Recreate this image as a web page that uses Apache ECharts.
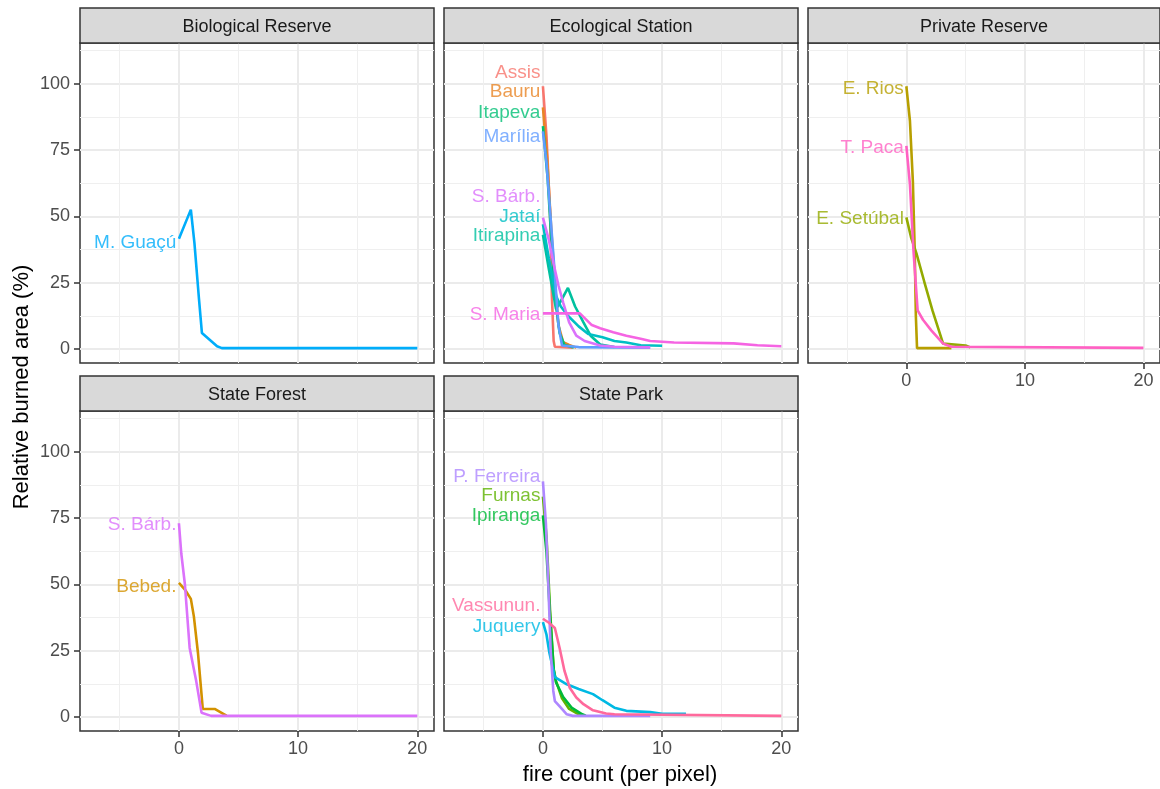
<!DOCTYPE html>
<html>
<head>
<meta charset="utf-8">
<script src="https://cdn.jsdelivr.net/npm/echarts@6/dist/echarts.min.js"></script>
<style>
html,body{margin:0;padding:0;background:#fff;}
#chart{width:1160px;height:789px;}
</style>
</head>
<body>
<div id="chart"></div>
<script>
// ---------------- DATA ----------------
const colorLevels = ['Assis','Bauru','Bebed.','E. Rios','E. Setúbal','Furnas','Ipiranga','Itapeva','Itirapina','Jataí','Juquery','M. Guaçú','Marília','P. Ferreira','S. Bárb.','S. Maria','T. Paca','Vassunun.'];

const panelTitles = ['Biological Reserve','Ecological Station','Private Reserve','State Forest','State Park'];

const xTicks = [0, 10, 20];
const xMinorTicks = [-5, 5, 15];
const yTicks = [0, 25, 50, 75, 100];
const yMinorTicks = [12.5, 37.5, 62.5, 87.5, 112.5];

// Biological Reserve
const bioNames = ['M. Guaçú'];
const bioLabelY = [40];
const bioData = [
  [[0,41.5],[1,52.5],[1.3,40],[1.68,19],[1.93,6],[3.2,1],[3.6,0.3],[20,0.3]]
];

// Ecological Station
const ecoNames = ['Assis','Bauru','Itapeva','Itirapina','Jataí','Marília','S. Bárb.','S. Maria'];
const ecoLabelY = [104, 97, 89, 42.5, 50, 80, 57.5, 12.8];
const ecoData = [
  [[0,99],[0.3,80],[0.6,51],[0.75,20],[0.9,3],[1,0.8],[2.5,0.5]],
  [[0,91],[0.35,72],[0.7,45],[1,25],[1.3,9],[1.7,2.5],[2.2,1.5],[2.8,0.5]],
  [[0,84],[0.4,64],[0.75,38],[1.05,18],[1.4,6],[1.8,1.5],[2.6,0.5]],
  [[0,43],[0.5,30],[1.1,15],[1.5,18],[2.1,23],[2.7,16],[3.4,10],[4,5],[4.8,1.7],[6,0.7]],
  [[0,47],[0.5,34],[1.1,20],[1.5,16],[2.1,12.5],[3,8.5],[3.8,5.6],[5,4.4],[6,3],[7,2.4],[8.2,1.4],[10,1.2]],
  [[0,82],[0.3,70],[0.7,46],[1,28],[1.3,9],[1.6,1.3],[3,0.7],[9,0.5]],
  [[0,49.5],[0.5,41],[0.9,32],[1.3,24],[1.7,17.5],[2.2,10],[2.8,5],[3.5,3],[4.8,1.3],[6,0.8],[9,0.6]],
  [[0,13.4],[3.1,13.4],[4.1,9],[4.8,7.8],[5.9,6.3],[7,5],[8.2,3.8],[9,3],[11,2.4],[16,2.1],[18,1.4],[20,1]]
];

// Private Reserve
const privNames = ['E. Rios','E. Setúbal','T. Paca'];
const privLabelY = [98, 49.2, 76];
const privData = [
  [[0,99],[0.3,86],[0.55,63],[0.7,38],[0.8,12.5],[0.9,0.3],[3.8,0.3]],
  [[0,49.6],[0.4,42],[0.85,36],[1.5,25.5],[2.2,14.5],[3.1,2],[5,1.3],[5.4,0.6]],
  [[0,76.5],[0.3,62],[0.6,37],[0.95,14.5],[1.4,11],[2.1,7],[3.1,2],[3.8,0.8],[20,0.4]]
];

// State Forest
const forestNames = ['Bebed.','S. Bárb.'];
const forestLabelY = [49.2, 72.3];
const forestData = [
  [[0,50.5],[0.5,48],[1,44.5],[1.25,38],[1.6,24],[2,3],[3,3],[3.8,1],[4,0.5]],
  [[0,73],[0.2,61.5],[0.5,50],[0.9,26],[1.45,13.5],[1.9,1.6],[2.7,0.4],[20,0.4]]
];

// State Park
const parkNames = ['Furnas','Ipiranga','Juquery','P. Ferreira','Vassunun.'];
const parkLabelY = [83.3, 75.8, 34, 90.5, 42];
const parkData = [
  [[0,83],[0.3,68],[0.6,40],[0.9,18],[1.1,13.5],[1.6,7],[2.2,3],[3,1],[3.4,0.5]],
  [[0,76],[0.3,62],[0.6,38],[0.9,18],[1.1,13],[1.7,7.5],[2.4,3.5],[3.3,1],[3.6,0.5]],
  [[0,35.7],[0.3,31],[0.55,24],[1,15],[2,12.3],[3,10.5],[4.2,8.6],[5,6.3],[6,3.5],[7,2.3],[9,1.8],[10,1.2],[12,1.2]],
  [[0,88.8],[0.25,73],[0.45,50],[0.65,25],[0.87,9.8],[1,6],[1.5,3.5],[2,1],[2.5,0.4],[9,0.4]],
  [[0,37],[0.5,35.5],[1,33.5],[1.4,26],[1.8,17.5],[2.25,11],[2.8,7.3],[3.4,4.8],[4.2,2.5],[5.3,1.3],[6,1],[20,0.4]]
];

// ---------------- STYLE / LAYOUT ----------------
const FONT = "'Liberation Sans', Arial, sans-serif";
const XMIN = -8.3, XMAX = 21.4, YMIN = -5.3, YMAX = 115.3;
const colLeft = [80, 444, 808];
const colWidth = [354, 354, 352];
const rowTop = [43, 411];
const panelH = 320;
const stripH = 35;

// ggplot2 hue palette: hcl(h, c=100, l=65)
function hcl(h, c, l) {
  const hr = h * Math.PI / 180;
  const U = c * Math.cos(hr), V = c * Math.sin(hr);
  const Xn = 95.047, Yn = 100, Zn = 108.883;
  const Y = Yn * (l > 8 ? Math.pow((l + 16) / 116, 3) : l / 903.3);
  const t = Xn + 15 * Yn + 3 * Zn;
  const un = 4 * Xn / t, vn = 9 * Yn / t;
  const u = U / (13 * l) + un, v = V / (13 * l) + vn;
  const X = 9 * Y * u / (4 * v);
  const Z = -X / 3 - 5 * Y + 3 * Y / v;
  const x = X / 100, y = Y / 100, z = Z / 100;
  let rgb = [
    3.240479 * x - 1.537150 * y - 0.498535 * z,
    -0.969256 * x + 1.875992 * y + 0.041556 * z,
    0.055648 * x - 0.204043 * y + 1.057311 * z
  ];
  rgb = rgb.map(c0 => {
    let g = c0 <= 0.0031308 ? 12.92 * c0 : 1.055 * Math.pow(c0, 1 / 2.4) - 0.055;
    g = Math.max(0, Math.min(1, g));
    return Math.round(g * 255).toString(16).padStart(2, '0');
  });
  return '#' + rgb.join('');
}
const nLev = colorLevels.length;
const palette = {};
colorLevels.forEach((nm, i) => { palette[nm] = hcl(15 + i * 360 / nLev, 100, 65); });

const panels = [
  {names: bioNames, data: bioData, labelY: bioLabelY, row: 0, col: 0, xLab: false},
  {names: ecoNames, data: ecoData, labelY: ecoLabelY, row: 0, col: 1, xLab: false},
  {names: privNames, data: privData, labelY: privLabelY, row: 0, col: 2, xLab: true},
  {names: forestNames, data: forestData, labelY: forestLabelY, row: 1, col: 0, xLab: true},
  {names: parkNames, data: parkData, labelY: parkLabelY, row: 1, col: 1, xLab: true}
];

const grids = [], xAxes = [], yAxes = [], series = [], graphics = [];

panels.forEach((p, i) => {
  const left = colLeft[p.col], top = rowTop[p.row], w = colWidth[p.col];
  const yLab = p.col === 0;
  grids.push({left: left, top: top, width: w, height: panelH, show: true,
    borderColor: '#333333', borderWidth: 1.5, backgroundColor: '#ffffff', outerBoundsMode: 'none', containLabel: false});
  // major x
  xAxes.push({type: 'value', gridIndex: i, min: XMIN, max: XMAX, position: 'bottom',
    axisLine: {show: false, onZero: false},
    axisTick: {show: p.xLab, customValues: xTicks, length: 6, lineStyle: {color: '#333333', width: 1.5}},
    axisLabel: {show: p.xLab, customValues: xTicks, fontSize: 18, color: '#4D4D4D', fontFamily: FONT, margin: 9},
    splitLine: {show: true, lineStyle: {color: '#EBEBEB', width: 2}}
  });
  // minor x
  xAxes.push({type: 'value', gridIndex: i, min: XMIN, max: XMAX, position: 'bottom',
    axisLine: {show: false, onZero: false},
    axisTick: {show: false, customValues: xMinorTicks},
    axisLabel: {show: false, customValues: xMinorTicks},
    splitLine: {show: true, lineStyle: {color: '#EFEFEF', width: 1}}
  });
  // major y
  yAxes.push({type: 'value', gridIndex: i, min: YMIN, max: YMAX, position: 'left',
    axisLine: {show: false, onZero: false},
    axisTick: {show: yLab, customValues: yTicks, length: 6, lineStyle: {color: '#333333', width: 1.5}},
    axisLabel: {show: yLab, customValues: yTicks, fontSize: 18, color: '#4D4D4D', fontFamily: FONT, margin: 10},
    splitLine: {show: true, lineStyle: {color: '#EBEBEB', width: 2}}
  });
  // minor y
  yAxes.push({type: 'value', gridIndex: i, min: YMIN, max: YMAX, position: 'left',
    axisLine: {show: false, onZero: false},
    axisTick: {show: false, customValues: yMinorTicks},
    axisLabel: {show: false, customValues: yMinorTicks},
    splitLine: {show: true, lineStyle: {color: '#EFEFEF', width: 1}}
  });

  p.names.forEach((nm, k) => {
    series.push({type: 'line', name: nm + ' ' + i, xAxisIndex: 2 * i, yAxisIndex: 2 * i,
      data: p.data[k], showSymbol: false, symbol: 'none', silent: true, animation: false,
      lineStyle: {color: palette[nm], width: 2.6}, z: 3});
  });
  series.push({type: 'scatter', xAxisIndex: 2 * i, yAxisIndex: 2 * i, symbolSize: 1, silent: true, animation: false,
    itemStyle: {color: 'rgba(0,0,0,0)'}, z: 5,
    label: {show: true, position: 'left', distance: 2, formatter: '{b}', fontSize: 19, fontFamily: FONT},
    data: p.names.map((nm, k) => ({name: nm, value: [0, p.labelY[k]], label: {color: palette[nm]}}))
  });

  // strip
  graphics.push({type: 'rect', shape: {x: left, y: top - stripH, width: w, height: stripH},
    style: {fill: '#D9D9D9', stroke: '#333333', lineWidth: 1.5}, z: 10});
  graphics.push({type: 'text', x: left + w / 2, y: top - stripH / 2 + 2,
    style: {text: panelTitles[i], fill: '#1A1A1A', font: '18px ' + FONT, align: 'center', verticalAlign: 'middle'}, z: 11});
});

graphics.push({type: 'text', x: 620, y: 775,
  style: {text: 'fire count (per pixel)', fill: '#000', font: '22px ' + FONT, align: 'center', verticalAlign: 'middle'}});
graphics.push({type: 'text', x: 22, y: 387, rotation: Math.PI / 2,
  style: {text: 'Relative burned area (%)', fill: '#000', font: '22px ' + FONT, align: 'center', verticalAlign: 'middle'}});

const chart = echarts.init(document.getElementById('chart'), null, {renderer: 'canvas'});
chart.setOption({
  animation: false,
  backgroundColor: '#ffffff',
  grid: grids,
  xAxis: xAxes,
  yAxis: yAxes,
  series: series,
  graphic: graphics
});
</script>
</body>
</html>
